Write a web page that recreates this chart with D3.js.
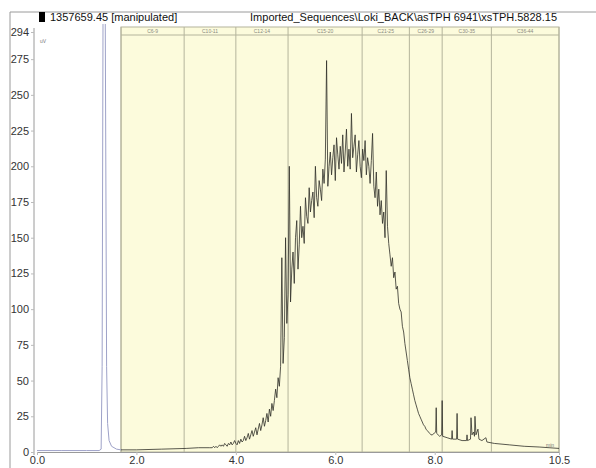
<!DOCTYPE html>
<html>
<head>
<meta charset="utf-8">
<script src="https://cdn.jsdelivr.net/npm/d3@7"></script>
<style>
  body { margin: 0; background: #fff; }
  text { font-family: "Liberation Sans", Arial, sans-serif; }
</style>
</head>
<body>
<div id="chart"></div>
<script>
// header
const areaCount = "1357659.45 [manipulated]"
const seqPath = "Imported_Sequences\\Loki_BACK\\asTPH 6941\\xsTPH.5828.15"

// carbon bands (retention time edges, min)
const bandEdges = [1.69, 2.96, 4.0, 5.05, 6.54, 7.49, 8.15, 9.14, 10.5]
const bandLabels = ["C6-9", "C10-11", "C12-14", "C15-20", "C21-25", "C26-29", "C30-35", "C36-44"]

const xTicks = [0, 2, 4, 6, 8, 10.5]
const yTicks = [0, 25, 50, 75, 100, 125, 150, 175, 200, 225, 250, 275, 294]

// solvent front (drawn in blue)
const leadTimes  = [0, 0.5, 1.0, 1.25, 1.29, 1.31, 1.33, 1.37, 1.40, 1.42, 1.45, 1.50, 1.60, 1.69]
const leadSignal = [1, 1, 1, 1, 2, 60, 330, 330, 60, 20, 8, 4, 2, 1.5]

// flat part before the hump
const baseTimes  = [1.69, 2.0, 2.5, 3.0, 3.25, 3.475]
const baseSignal = [1.5, 1.5, 2, 2.5, 3, 3]

// hydrocarbon hump, one reading every 0.025 min from 3.5 min
const humpStart = 3.5
const humpStep = 0.025
const humpSignal = [
  3, 3, 4, 3, 4, 3, 4, 5, 4, 5, 4, 6, 5, 4, 6, 5,
  7, 5, 6, 8, 6, 5, 8, 6, 9, 7, 8, 11, 8, 10, 13, 9,
  12, 15, 11, 14, 17, 12, 16, 20, 15, 19, 24, 18, 22, 27, 21, 30,
  25, 34, 29, 36, 44, 38, 52, 46, 60, 136, 62, 80, 150, 90, 110, 200,
  105, 128, 140, 118, 150, 162, 128, 145, 172, 150, 158, 146, 178, 165, 160, 185,
  168, 176, 182, 164, 200, 178, 172, 190, 184, 176, 198, 188, 205, 274, 186, 200,
  210, 194, 206, 215, 190, 220, 208, 198, 214, 202, 222, 196, 210, 226, 200, 212,
  198, 237, 206, 214, 222, 196, 208, 218, 200, 192, 212, 204, 218, 194, 206, 200,
  188, 204, 223, 186, 178, 196, 172, 184, 166, 176, 160, 168, 150, 197, 158, 146,
  138, 130, 136, 122, 126, 114, 116, 104, 100, 98, 88, 84, 76, 70, 64, 58,
  52, 48, 44, 40, 36, 33, 30, 27, 25, 23, 21, 19, 18, 16, 15, 14,
  13, 12, 12
]

// tail with the late narrow peaks
const tailTimes  = [8.02, 8.03, 8.04, 8.10, 8.14, 8.15, 8.16, 8.25, 8.34, 8.35, 8.36, 8.44, 8.45, 8.46,
                    8.55, 8.64, 8.65, 8.66, 8.72, 8.73, 8.75, 8.78, 8.80, 8.81, 8.83, 8.87, 8.89, 8.95,
                    9.03, 9.05, 9.2, 9.5, 9.8, 10.1, 10.3, 10.5]
const tailSignal = [14, 31, 13, 11, 12, 36, 11, 10, 9, 15, 9, 9, 27, 9,
                    8, 8, 12, 8, 9, 24, 12, 14, 11, 25, 12, 16, 9, 8,
                    10, 7, 6, 5, 4, 3.5, 3, 2.5]

const W = 596, H = 468

const svg = d3.select("#chart")
  .append("svg")
    .attr("width", W)
    .attr("height", H)

const x = d3.scaleLinear().domain([0, 10.5]).range([37, 559])
const y = d3.scaleLinear().domain([0, 294]).range([452, 32])

// outer frame
svg.append("path")
  .attr("d", `M10,${H} V12 H${W}`)
  .attr("fill", "none")
  .attr("stroke", "#9a9a9a")

// header
svg.append("rect").attr("x", 39).attr("y", 12).attr("width", 6).attr("height", 10).attr("fill", "#000")
svg.append("text").attr("x", 50).attr("y", 21).attr("font-size", 11).attr("fill", "#111").text(areaCount)
svg.append("text").attr("x", 557).attr("y", 21).attr("font-size", 11).attr("fill", "#111")
  .attr("text-anchor", "end").text(seqPath)

// bands
const bands = bandLabels.map((lab, i) => ({ lab, a: bandEdges[i], b: bandEdges[i + 1] }))
const bandTop = 27, stripY = 35

svg.append("rect")
  .attr("x", x(bandEdges[0]))
  .attr("y", bandTop)
  .attr("width", x(bandEdges[bandEdges.length - 1]) - x(bandEdges[0]))
  .attr("height", y(0) - bandTop)
  .attr("fill", "#fcfbdc")
  .attr("stroke", "#b4b49c")

svg.selectAll("line.band")
  .data(bandEdges)
  .enter().append("line")
    .attr("class", "band")
    .attr("x1", d => x(d)).attr("x2", d => x(d))
    .attr("y1", bandTop).attr("y2", y(0))
    .attr("stroke", "#b4b49c")

svg.append("line")
  .attr("x1", x(bandEdges[0])).attr("x2", x(bandEdges[bandEdges.length - 1]))
  .attr("y1", stripY).attr("y2", stripY)
  .attr("stroke", "#b4b49c")

svg.selectAll("text.band")
  .data(bands)
  .enter().append("text")
    .attr("class", "band")
    .attr("x", d => (x(d.a) + x(d.b)) / 2)
    .attr("y", 33)
    .attr("text-anchor", "middle")
    .attr("font-size", 5)
    .attr("fill", "#8a8a80")
    .text(d => d.lab)

// axes
const yAxis = svg.append("g")
  .attr("transform", "translate(34,0)")
  .call(d3.axisLeft(y).tickValues(yTicks).tickSize(3).tickPadding(2).tickSizeOuter(0))
yAxis.select(".domain").attr("stroke", "#9a9a9a").attr("d", `M0,28V${y(0) + 3}`)
yAxis.selectAll(".tick line").attr("stroke", "#bbb")
yAxis.selectAll("text").attr("font-size", 11).attr("fill", "#333").attr("font-family", "Liberation Sans, Arial")

const xAxis = svg.append("g")
  .attr("transform", `translate(0,${y(0)})`)
  .call(d3.axisBottom(x).tickValues(xTicks).tickFormat(d3.format(".1f")).tickSize(3).tickPadding(1).tickSizeOuter(0))
xAxis.select(".domain").attr("stroke", "#9a9a9a")
xAxis.selectAll(".tick line").attr("stroke", "#bbb")
xAxis.selectAll("text").attr("font-size", 11).attr("fill", "#333").attr("font-family", "Liberation Sans, Arial")

svg.append("text").attr("x", 40).attr("y", 43).attr("font-size", 5).attr("fill", "#777").text("uV")
svg.append("text").attr("x", 546).attr("y", 447).attr("font-size", 5).attr("fill", "#777").text("min")

// trace
svg.append("clipPath").attr("id", "plot")
  .append("rect").attr("x", 34).attr("y", 24).attr("width", 530).attr("height", y(0) - 24)

const line = d3.line().x(d => x(d[0])).y(d => y(d[1]))

const lead = leadTimes.map((t, i) => [t, leadSignal[i]])
const main = baseTimes.map((t, i) => [t, baseSignal[i]])
  .concat(humpSignal.map((v, i) => [humpStart + i * humpStep, v]))
  .concat(tailTimes.map((t, i) => [t, tailSignal[i]]))

svg.append("path")
  .datum(lead)
  .attr("clip-path", "url(#plot)")
  .attr("fill", "none")
  .attr("stroke", "#9ea2c8")
  .attr("stroke-width", 1)
  .attr("d", line)

svg.append("path")
  .datum(main)
  .attr("clip-path", "url(#plot)")
  .attr("fill", "none")
  .attr("stroke", "#2e2e28")
  .attr("stroke-width", 0.8)
  .attr("d", line)
</script>
</body>
</html>
